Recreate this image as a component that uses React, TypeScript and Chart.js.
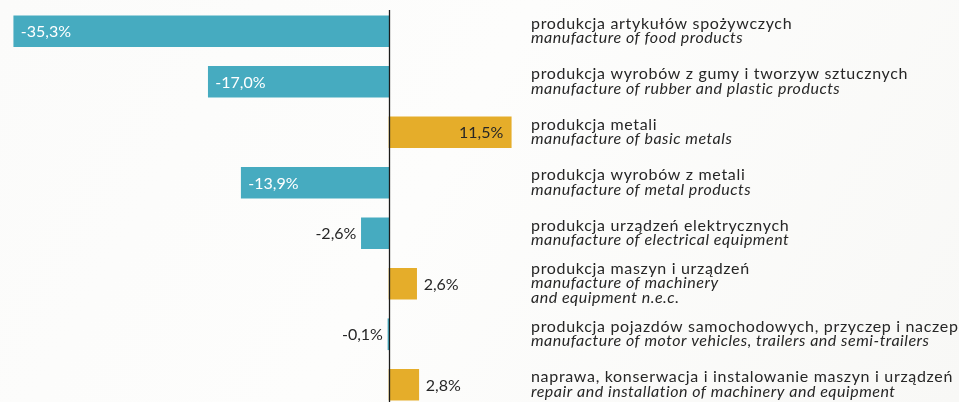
import React, { useEffect, useRef } from "react";
import { Chart, registerables } from "chart.js";

Chart.register(...registerables);

const polishLabels: string[] = [
  "produkcja artykułów spożywczych",
  "produkcja wyrobów z gumy i tworzyw sztucznych",
  "produkcja metali",
  "produkcja wyrobów z metali",
  "produkcja urządzeń elektrycznych",
  "produkcja maszyn i urządzeń",
  "produkcja pojazdów samochodowych, przyczep i naczep",
  "naprawa, konserwacja i instalowanie maszyn i urządzeń",
];

const englishLabels: string[][] = [
  ["manufacture of food products"],
  ["manufacture of rubber and plastic products"],
  ["manufacture of basic metals"],
  ["manufacture of metal products"],
  ["manufacture of electrical equipment"],
  ["manufacture of machinery", "and equipment n.e.c."],
  ["manufacture of motor vehicles, trailers and semi-trailers"],
  ["repair and installation of machinery and equipment"],
];

const values: number[] = [-35.3, -17.0, 11.5, -13.9, -2.6, 2.6, -0.1, 2.8];

const NEG_COLOR = "#46abc0";
const POS_COLOR = "#e5ad2a";
const TEXT_COLOR = "#262626";
const FONT = "Lato, 'Open Sans', sans-serif";

const fmt = (v: number) => v.toFixed(1).replace(".", ",") + "%";

const overlayPlugin = {
  id: "overlay",
  afterDatasetsDraw(chart: any) {
    const ctx = chart.ctx as CanvasRenderingContext2D & { letterSpacing?: string };
    const xs = chart.scales.x;
    const ys = chart.scales.y;
    const meta = chart.getDatasetMeta(0);
    const zeroX = Math.round(xs.getPixelForValue(0)) + 0.5;

    // zero line
    ctx.save();
    ctx.strokeStyle = "#1c1c1c";
    ctx.lineWidth = 1.3;
    ctx.beginPath();
    ctx.moveTo(zeroX, 10);
    ctx.lineTo(zeroX, chart.height);
    ctx.stroke();
    ctx.restore();

    // value labels
    ctx.save();
    ctx.font = `16px ${FONT}`;
    ctx.textBaseline = "middle";
    values.forEach((v, i) => {
      const bar = meta.data[i];
      const y = bar.y + 1;
      const end = xs.getPixelForValue(v);
      const width = Math.abs(end - xs.getPixelForValue(0));
      const txt = fmt(v);
      if (width > 70) {
        if (v < 0) {
          ctx.fillStyle = "#ffffff";
          ctx.textAlign = "left";
          ctx.fillText(txt, end + 7, y);
        } else {
          ctx.fillStyle = TEXT_COLOR;
          ctx.textAlign = "right";
          ctx.fillText(txt, end - 8, y);
        }
      } else {
        ctx.fillStyle = TEXT_COLOR;
        if (v < 0) {
          ctx.textAlign = "right";
          ctx.fillText(txt, end - 5, y);
        } else {
          ctx.textAlign = "left";
          ctx.fillText(txt, end + 7, y);
        }
      }
    });
    ctx.restore();

    // category labels
    ctx.save();
    ctx.fillStyle = TEXT_COLOR;
    ctx.textAlign = "left";
    ctx.textBaseline = "alphabetic";
    const lineH = 14.5;
    const labelX = 531;
    polishLabels.forEach((pl, i) => {
      const cy = ys.getPixelForValue(i);
      const lines = [pl, ...englishLabels[i]];
      const n = lines.length;
      const base = cy - ((n - 1) * lineH) / 2 + 4.5;
      lines.forEach((ln, j) => {
        if (j === 0) {
          ctx.font = `16px ${FONT}`;
          ctx.letterSpacing = "0.68px";
        } else {
          ctx.font = `italic 16px ${FONT}`;
          ctx.letterSpacing = "0.52px";
        }
        ctx.fillText(ln, labelX, base + j * lineH);
      });
    });
    ctx.letterSpacing = "0px";
    ctx.restore();
  },
};

export default function App() {
  const canvasRef = useRef<HTMLCanvasElement | null>(null);

  useEffect(() => {
    if (!canvasRef.current) return;
    const pxPerUnit = 10.63;
    const zero = 389;
    const chart = new Chart(canvasRef.current, {
      type: "bar",
      data: {
        labels: polishLabels,
        datasets: [
          {
            data: values,
            backgroundColor: values.map((v) => (v < 0 ? NEG_COLOR : POS_COLOR)),
            borderWidth: 0,
            barThickness: 31,
          },
        ],
      },
      options: {
        indexAxis: "y",
        animation: false,
        responsive: true,
        maintainAspectRatio: false,
        layout: { padding: { top: 6, bottom: 10, left: 0, right: 0 } },
        plugins: {
          legend: { display: false },
          tooltip: { enabled: false },
        },
        scales: {
          x: {
            display: false,
            min: -zero / pxPerUnit,
            max: (959 - zero) / pxPerUnit,
          },
          y: { display: false },
        },
      },
      plugins: [overlayPlugin],
    });
    return () => chart.destroy();
  }, []);

  return (
    <div
      style={{
        position: "fixed",
        left: 0,
        top: 0,
        width: 959,
        height: 402,
        overflow: "hidden",
        background: "linear-gradient(120deg, #fbfbfa 0%, #fdfdfc 45%, #f8f8f6 100%)",
      }}
    >
      <div style={{ position: "absolute", left: 0, top: 0, width: 959, height: 420 }}>
        <canvas ref={canvasRef} />
      </div>
    </div>
  );
}
